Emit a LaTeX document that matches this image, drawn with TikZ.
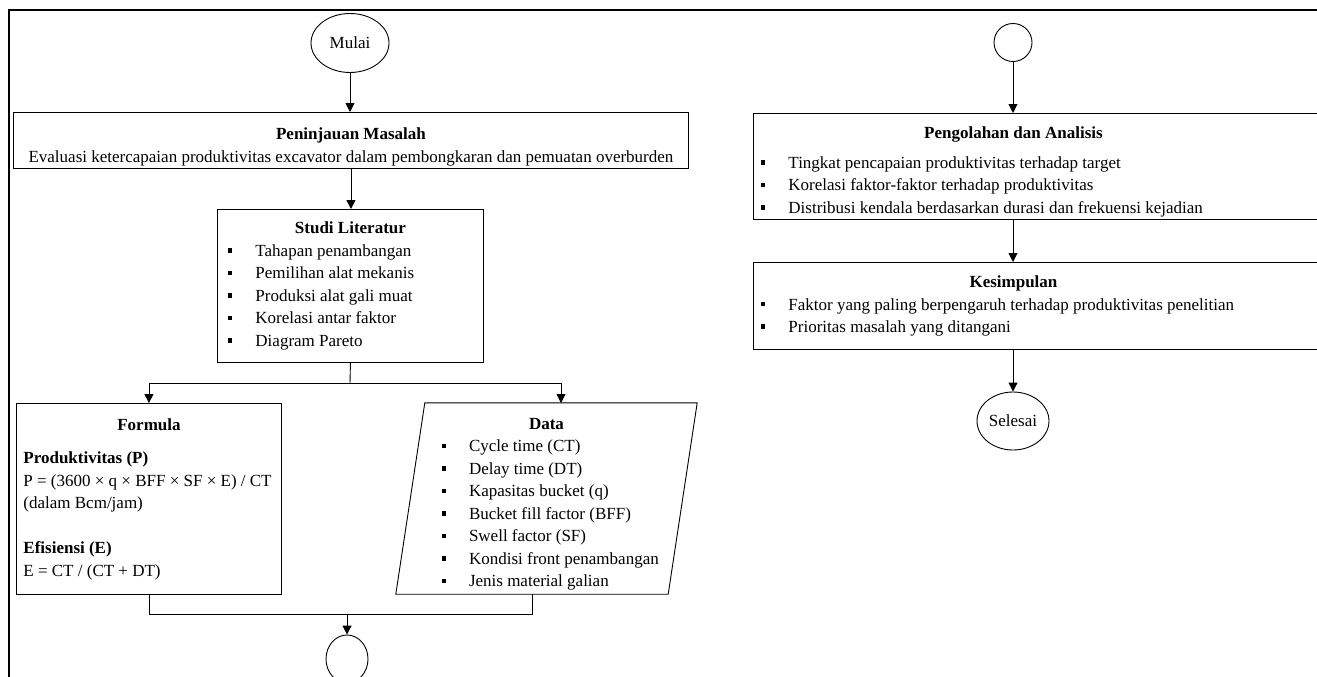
\documentclass[tikz,border=0pt]{standalone}
\usepackage{fontspec}
\setmainfont{Liberation Serif}
\usetikzlibrary{arrows.meta,shapes.geometric}
\setlength{\parindent}{0pt}
\newcommand{\ns}{\spaceskip=0pt\xspaceskip=0pt\relax}
\newcommand{\bsq}{\rule[3.6pt]{4pt}{4.5pt}}
\newcommand{\bitem}[2]{\hspace*{#1}\makebox[27pt][l]{\bsq}#2\par}
\newcommand{\ctitle}[2]{\makebox[#1][c]{\textbf{#2}}\par}
\tikzset{
  every node/.style={font=\fontsize{17.0}{22.5}\selectfont},
  box/.style={draw, line width=0.9pt, inner sep=0pt, anchor=north west, align=left},
  term/.style={draw, ellipse, line width=0.9pt, inner sep=0pt},
  flow/.style={line width=0.9pt, -{Triangle[length=9pt,width=9pt]}},
  link/.style={line width=0.9pt},
}
\begin{document}
\begin{tikzpicture}[x=1pt,y=-1pt]
\useasboundingbox (0,0) rectangle (1317,677);
\draw[line width=1.2pt] (1330,10) -- (9,10) -- (9,690);

% left column
\node[term, minimum width=78pt, minimum height=59pt] (mulai) at (350,43) {Mulai};
\node[box, minimum width=675pt, minimum height=56pt, text width=675pt] (tinjau) at (13,112) {\ns
  \rule{0pt}{25pt}\ctitle{675pt}{Peninjauan Masalah}
  \makebox[675pt][c]{Evaluasi ketercapaian produktivitas excavator dalam pembongkaran dan pemuatan overburden}\par};
\node[box, minimum width=266pt, minimum height=153pt, text width=266pt] (studi) at (217,209) {\ns
  \ctitle{266pt}{Studi Literatur}
  \bitem{11pt}{Tahapan penambangan}
  \bitem{11pt}{Pemilihan alat mekanis}
  \bitem{11pt}{Produksi alat gali muat}
  \bitem{11pt}{Korelasi antar faktor}
  \bitem{11pt}{Diagram Pareto}};
\node[box, minimum width=265pt, minimum height=191pt, text width=265pt] (formula) at (16,403) {\ns
  \ctitle{265pt}{Formula}\vspace{11pt}
  \hspace*{7pt}\textbf{Produktivitas (P)}\par
  \hspace*{7pt}P = (3600 × q × BFF × SF × E) / CT\par
  \hspace*{7pt}(dalam Bcm/jam)\par
  \mbox{}\par
  \hspace*{7pt}\textbf{Efisiensi (E)}\par
  \hspace*{7pt}E = CT / (CT + DT)\par};
\node[inner sep=0pt, minimum width=272pt, minimum height=191pt, text width=272pt, align=left] (data) at (546.5,498.5) {\ns
  \rule{0pt}{23pt}\ctitle{272pt}{Data}
  \bitem{31.5pt}{Cycle time (CT)}
  \bitem{31.5pt}{Delay time (DT)}
  \bitem{31.5pt}{Kapasitas bucket (q)}
  \bitem{31.5pt}{Bucket fill factor (BFF)}
  \bitem{31.5pt}{Swell factor (SF)}
  \bitem{31.5pt}{Kondisi front penambangan}
  \bitem{31.5pt}{Jenis material galian}};
\draw[line width=0.9pt] ([xshift=14.5pt]data.north west) -- ([xshift=14.5pt]data.north east)
  -- ([xshift=-14.5pt]data.south east) -- ([xshift=-14.5pt]data.south west) -- cycle;
\node[term, minimum width=42pt, minimum height=48pt] (c1) at (347,659) {};

% right column
\node[draw, circle, line width=0.9pt, inner sep=0pt, minimum size=38pt] (c2) at (1013,42.5) {};
\node[box, minimum width=600pt, minimum height=106pt, text width=600pt] (olah) at (753,113) {\ns
  \rule{0pt}{23pt}\ctitle{520pt}{Pengolahan dan Analisis}\vspace{7pt}
  \bitem{8pt}{Tingkat pencapaian produktivitas terhadap target}
  \bitem{8pt}{Korelasi faktor-faktor terhadap produktivitas}
  \bitem{8pt}{Distribusi kendala berdasarkan durasi dan frekuensi kejadian}};
\node[box, minimum width=600pt, minimum height=87pt, text width=600pt] (simpul) at (753,262) {\ns
  \ctitle{520pt}{Kesimpulan}
  \bitem{8pt}{Faktor yang paling berpengaruh terhadap produktivitas penelitian}
  \bitem{8pt}{Prioritas masalah yang ditangani}};
\node[term, minimum width=72pt, minimum height=58pt] (selesai) at (1013,421) {Selesai};

% connectors
\coordinate (sj) at (350,383);
\coordinate (dn) at (561,403);
\coordinate (ds) at (532,594);
\coordinate (mj) at (347,614);
\draw[flow] (mulai.south) -- (mulai |- tinjau.north);
\draw[flow] (tinjau.south) -- (tinjau.south |- studi.north);
\draw[link] (studi.south) -- (sj);
\draw[flow] (sj) -| (formula.north);
\draw[flow] (sj) -| (dn);
\draw[link] (formula.south) |- (mj);
\draw[link] (ds) |- (mj);
\draw[flow] (mj) -- (c1.north);
\draw[flow] (c2.south) -- (c2 |- olah.north);
\draw[flow] (c2 |- olah.south) -- (c2 |- simpul.north);
\draw[flow] (c2 |- simpul.south) -- (selesai.north);
\end{tikzpicture}
\end{document}
